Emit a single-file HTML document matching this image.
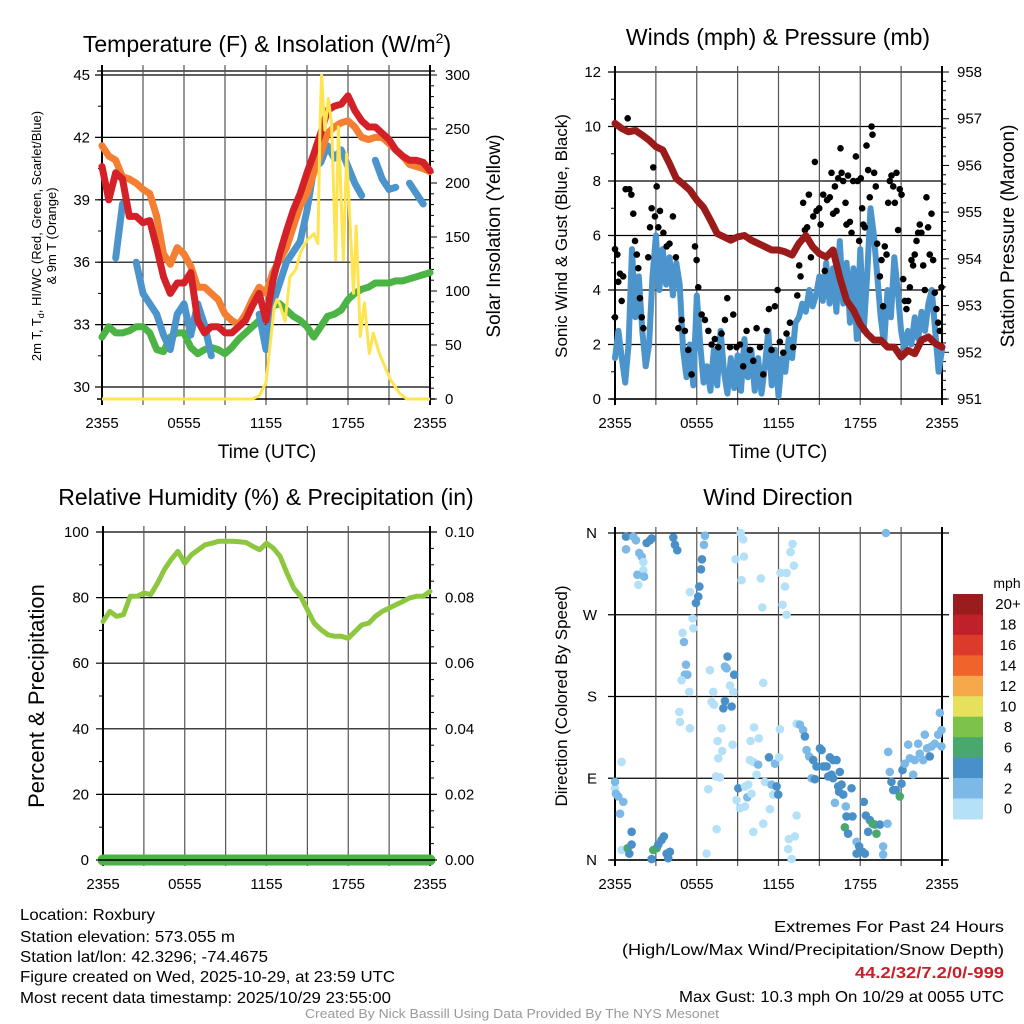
<!DOCTYPE html>
<html><head><meta charset="utf-8"><style>
html,body{margin:0;padding:0;background:#fff;}
svg{display:block;font-family:"Liberation Sans",sans-serif;}
</style></head><body>
<svg id="fig" width="1024" height="1024" viewBox="0 0 1024 1024" xmlns="http://www.w3.org/2000/svg">
<rect width="1024" height="1024" fill="#fff"/>
<!-- titles -->
<text x="267" y="52" font-size="23" text-anchor="middle">Temperature (F) &amp; Insolation (W/m<tspan dy="-9" font-size="14">2</tspan><tspan dy="9">)</tspan></text>
<text x="778" y="45" font-size="23" text-anchor="middle">Winds (mph) &amp; Pressure (mb)</text>
<text x="266" y="505" font-size="23" text-anchor="middle">Relative Humidity (%) &amp; Precipitation (in)</text>
<text x="778" y="505" font-size="23" text-anchor="middle">Wind Direction</text>
<!-- axis titles -->
<text x="267" y="458" font-size="19" text-anchor="middle">Time (UTC)</text>
<text x="778" y="458" font-size="19" text-anchor="middle">Time (UTC)</text>
<g transform="translate(41,236) rotate(-90)">
<text x="0" y="0" font-size="13" text-anchor="middle">2m T, T<tspan dy="3" font-size="9">d</tspan><tspan dy="-3">, HI/WC (Red, Green, Scarlet/Blue)</tspan></text>
<text x="0" y="15" font-size="13" text-anchor="middle">&amp; 9m T (Orange)</text></g>
<text transform="translate(500,236) rotate(-90)" font-size="19" text-anchor="middle">Solar Insolation (Yellow)</text>
<text transform="translate(567,236) rotate(-90)" font-size="17" text-anchor="middle">Sonic Wind &amp; Gust (Blue, Black)</text>
<text transform="translate(1014,236) rotate(-90)" font-size="19" text-anchor="middle">Station Pressure (Maroon)</text>
<text transform="translate(44,696) rotate(-90)" font-size="22" text-anchor="middle">Percent &amp; Precipitation</text>
<text transform="translate(567,696) rotate(-90)" font-size="17" text-anchor="middle">Direction (Colored By Speed)</text>
<!-- info text -->
<g font-size="16">
<text x="20" y="920" textLength="135" lengthAdjust="spacingAndGlyphs">Location: Roxbury</text>
<text x="20" y="942" textLength="215" lengthAdjust="spacingAndGlyphs">Station elevation: 573.055 m</text>
<text x="20" y="962" textLength="248" lengthAdjust="spacingAndGlyphs">Station lat/lon: 42.3296; -74.4675</text>
<text x="20" y="982" textLength="375" lengthAdjust="spacingAndGlyphs">Figure created on Wed, 2025-10-29, at 23:59 UTC</text>
<text x="20" y="1003" textLength="371" lengthAdjust="spacingAndGlyphs">Most recent data timestamp: 2025/10/29 23:55:00</text>
</g>
<g font-size="16">
<text x="774" y="932" textLength="230" lengthAdjust="spacingAndGlyphs">Extremes For Past 24 Hours</text>
<text x="622" y="955" textLength="382" lengthAdjust="spacingAndGlyphs">(High/Low/Max Wind/Precipitation/Snow Depth)</text>
<text x="855" y="978" textLength="149" lengthAdjust="spacingAndGlyphs" fill="#c8202a" font-weight="bold">44.2/32/7.2/0/-999</text>
<text x="679" y="1002" textLength="325" lengthAdjust="spacingAndGlyphs">Max Gust: 10.3 mph On 10/29 at 0055 UTC</text>
</g>
<text x="305" y="1018" font-size="13" textLength="414" lengthAdjust="spacingAndGlyphs" fill="#999">Created By Nick Bassill Using Data Provided By The NYS Mesonet</text>
<g id="g1"></g>
<g id="g2"></g>
<g id="g3"></g>
<g id="g4"></g>
<g id="cb"></g>
</svg>
<script>
// ---------- data ----------
const xTickHours = [0, 6, 12, 18, 24];
const xTickLabels = ["2355", "0555", "1155", "1755", "2355"];
const tempTicks = [30, 33, 36, 39, 42, 45];
const solarTicks = [0, 50, 100, 150, 200, 250, 300];
const windTicks = [0, 2, 4, 6, 8, 10, 12];
const presTicks = [951, 952, 953, 954, 955, 956, 957, 958];
const rhTicks = [0, 20, 40, 60, 80, 100];
const precipTicks = ["0.00", "0.02", "0.04", "0.06", "0.08", "0.10"];
const dirTicks = [0, 90, 180, 270, 360];
const dirLabels = ["N", "E", "S", "W", "N"];
const speedBins = ["0", "2", "4", "6", "8", "10", "12", "14", "16", "18", "20+"];
const speedColors = ["#b4e1f7", "#7db9e6", "#4a90c8", "#49a86c", "#7dc24a", "#e6e05a", "#f6a84a", "#f0632b", "#dd3a2b", "#c0202a", "#9b1c1c"];

// temperature series, half-hour steps from 2355 (h=0) to 2355 (h=24)
const tempRed = [40.6,39.0,40.3,40.0,38.2,38.2,37.9,38.0,36.7,35.3,34.5,35.0,35.0,35.5,33.2,32.6,32.9,32.9,32.6,32.6,32.9,33.2,33.9,34.5,33.2,35.1,36.4,37.5,38.5,39.3,40.3,41.2,42.2,43.3,43.5,43.6,44.0,43.3,42.8,42.5,42.5,42.2,41.9,41.4,41.1,40.9,40.9,40.8,40.4];
const tempOrange = [41.6,41.1,40.9,40.1,40.0,39.8,39.5,39.3,38.2,36.4,35.9,36.7,36.4,35.8,34.8,34.8,34.5,34.2,33.5,33.2,33.0,33.5,34.2,34.8,34.5,35.5,36.1,36.7,37.7,38.7,39.3,40.3,41.2,42.2,42.5,42.7,42.8,42.5,42.0,41.9,42.0,42.0,41.7,41.4,41.1,40.7,40.6,40.5,40.35];
const tempGreen = [32.4,32.9,32.6,32.6,32.7,32.9,32.9,32.6,31.8,31.7,32.4,32.6,32.6,31.9,31.6,31.8,31.9,31.8,31.6,31.9,32.3,32.6,32.9,33.2,33.4,33.9,34.0,33.7,33.4,33.2,32.9,32.4,32.9,33.4,33.5,33.7,34.2,34.5,34.7,34.8,35.0,35.0,35.0,35.1,35.1,35.2,35.3,35.4,35.5];
const tempBlue = [null,null,36.2,38.8,null,36.0,34.5,34.0,33.5,32.5,31.8,33.5,34.0,32.5,34.0,33.0,31.5,null,null,null,null,null,null,33.5,31.8,34.0,35.0,36.0,36.5,37.0,38.5,40.5,40.8,41.6,41.0,41.4,40.6,39.8,39.2,null,40.9,40.0,39.5,39.6,null,39.8,39.3,38.8,null];
const solarHours = [0,11,11.5,12,12.3,12.6,12.8,13,13.3,13.4,13.75,14.2,14.5,15,15.5,15.8,15.95,16.07,16.3,16.56,16.8,17.1,17.3,17.66,17.9,18.4,18.6,18.9,19.2,19.56,19.85,20.3,21.1,21.8,22.3,24];
const solarVals = [0,0,3,15,50,85,92,88,76,72,113,120,135,147,153,144,252,300,249,278,255,129,252,129,227,98,160,58,89,42,61,42,18,5,0,0];

// winds, quarter-hour steps
const windSonic = [1.5,2.5,1.5,0.6,2.0,5.5,3.0,4.5,2.5,1.2,2.0,4.5,6.0,4.0,5.5,4.2,5.2,3.8,5.0,4.2,1.8,0.8,2.0,0.5,3.8,2.0,0.6,1.2,0.3,1.8,0.5,2.5,1.0,0.2,1.5,0.4,1.6,0.3,2.2,0.8,1.8,0.3,1.5,0.2,1.2,2.5,0.5,1.8,0.1,1.5,1.0,2.2,1.5,2.8,3.0,3.5,3.2,4.0,3.4,3.8,4.5,3.6,5.0,3.5,4.8,3.2,5.8,3.5,5.0,2.8,4.8,2.2,5.5,2.5,4.5,7.0,6.0,4.5,3.0,2.0,4.0,3.0,5.2,4.0,2.5,1.8,2.5,2.0,3.0,2.2,3.2,2.5,3.5,4.0,2.5,1.0,1.8];
const pressure = [956.9,956.79,956.72,956.75,956.65,956.54,956.4,956.33,956.04,955.72,955.6,955.47,955.26,955.1,954.83,954.54,954.47,954.4,954.47,954.5,954.4,954.33,954.26,954.19,954.19,954.15,954.08,954.33,954.5,954.26,954.11,954.04,954.19,953.6,953.11,952.9,952.6,952.4,952.26,952.26,952.11,952.11,951.9,952.04,951.97,952.26,952.33,952.19,952.11];
const gustHours = [0,0,0.17,0.24,0.37,0.49,0.6,0.78,0.93,1.05,1.2,1.34,1.47,1.6,1.71,1.83,1.96,2.08,2.44,2.57,2.69,2.81,2.93,3.06,3.18,3.3,3.55,3.79,4.0,4.25,4.47,4.65,4.89,5.13,5.38,5.62,5.87,5.99,6.11,6.36,6.6,6.85,7.09,7.33,7.58,7.82,8.07,8.24,8.44,8.68,8.92,9.17,9.41,9.66,9.9,10.15,10.39,10.64,10.88,11.13,11.3,11.49,11.74,11.93,12.1,12.35,12.59,12.84,13.08,13.38,13.52,13.62,13.81,13.94,14.1,14.23,14.38,14.55,14.67,14.79,14.99,15.09,15.28,15.4,15.57,15.77,15.89,16.01,16.14,16.26,16.38,16.55,16.63,16.75,16.92,16.99,17.1,17.24,17.36,17.48,17.68,17.8,17.92,18.04,18.14,18.22,18.34,18.46,18.58,18.7,18.83,18.9,19.02,19.14,19.24,19.44,19.56,19.68,19.8,19.93,20.05,20.17,20.29,20.42,20.54,20.66,20.78,20.9,21.03,21.15,21.27,21.39,21.52,21.64,21.76,21.88,22.0,22.13,22.25,22.37,22.49,22.62,22.74,22.86,22.98,23.1,23.23,23.35,23.47,23.59,23.72,23.84,23.96];
const gustVals = [3.0,5.5,5.3,4.3,4.6,3.6,4.5,7.7,10.3,7.7,7.5,6.8,5.8,5.3,4.8,3.7,3.0,2.6,5.2,6.3,7.0,8.5,6.7,7.8,6.3,6.9,6.1,5.6,5.7,6.7,5.2,2.6,2.9,2.5,1.8,0.9,5.6,5.1,4.1,3.1,2.9,2.5,2.0,2.2,1.9,2.4,2.9,3.7,1.9,3.1,1.9,2.0,1.2,2.5,1.8,1.4,2.6,1.9,0.9,2.5,3.3,1.8,3.4,4.0,2.1,1.7,2.4,2.8,1.9,3.8,4.9,4.5,7.2,6.2,6.3,7.5,5.2,6.7,8.7,6.9,7.0,6.4,7.5,4.7,7.3,7.4,8.3,6.8,7.8,6.9,8.1,9.2,8.3,8.0,7.2,6.4,8.2,6.5,6.1,8.0,8.9,8.0,5.8,8.1,7.0,6.4,6.3,9.3,8.4,7.4,10.0,9.7,8.3,7.8,5.7,4.5,5.1,3.4,5.6,5.3,7.2,8.0,8.2,7.8,7.2,8.3,6.2,7.7,7.5,4.4,3.6,3.3,3.6,4.1,5.1,4.9,5.3,5.8,6.1,6.4,6.1,4.9,4.0,7.4,6.3,5.3,6.8,5.1,3.9,3.3,2.8,2.5,4.1];

// humidity, half-hour steps
const rhVals = [72.7,75.8,74.3,74.8,80.4,80.4,81.4,80.9,84.4,88.5,91.6,94.1,90.5,93.1,94.6,96.1,96.6,97.2,97.2,97.2,97.0,96.8,95.6,94.6,96.6,95.1,92.6,87.5,82.9,80.4,76.3,72.2,70.2,68.7,68.2,68.2,67.6,69.7,71.7,72.2,74.3,75.8,76.8,77.8,78.8,79.9,80.4,80.4,81.9];
const precipVals = [0,0,0,0,0,0,0,0,0,0,0,0,0,0,0,0,0,0,0,0,0,0,0,0,0];

// wind direction points
const dirHours = [0,0,0.07,0.24,0.61,0.49,0.37,0.49,0.93,1.05,1.22,1.22,0.81,0.81,1.34,1.54,1.78,1.96,2.08,2.08,1.64,2.13,1.71,2.32,2.57,2.69,2.81,3.06,3.18,3.42,3.59,3.79,4.03,3.91,2.69,4.28,4.40,4.57,5.50,5.70,5.75,5.94,6.11,6.19,6.31,6.38,6.53,6.60,4.96,5.06,5.21,5.13,5.31,4.89,5.45,4.72,4.77,5.50,6.97,7.09,7.26,7.21,7.53,7.58,7.82,7.87,7.41,7.70,6.85,7.46,6.72,8.07,8.19,8.26,8.44,8.56,8.68,8.75,7.95,8.07,8.63,9.05,8.92,9.17,9.54,9.78,9.54,9.71,10.02,9.90,10.15,10.15,10.39,10.51,10.88,11.0,11.37,11.49,11.61,11.74,11.98,12.05,11.86,11.3,10.88,10.2,9.95,10.56,9.22,9.41,9.46,8.85,9.29,10.71,10.81,12.15,12.47,12.59,12.3,12.59,12.88,13.03,13.13,12.1,13.33,13.2,12.76,12.71,12.96,13.33,13.57,13.81,13.94,14.06,14.25,14.55,14.43,14.67,14.79,15.04,15.16,15.28,15.53,15.65,15.77,16.01,16.26,15.89,16.01,16.5,16.38,16.45,16.63,16.75,16.14,16.94,16.99,16.87,17.11,17.43,17.36,17.73,17.92,17.73,18.17,18.34,18.26,18.41,18.58,18.7,18.9,19.07,19.19,19.44,19.68,20.0,19.68,19.88,20.05,20.17,20.29,20.42,20.61,20.9,21.03,21.1,21.27,21.52,21.64,21.88,22.0,22.25,22.37,22.62,22.74,22.91,23.1,23.23,23.47,23.72,23.84,23.96,23.96];
const dirVals = [79,86,73,70,64,108,51,11,13,7,17,31,356,342,356,352,338,334,328,319,314,312,303,349,352,354,11,13,17,22,26,7,9,2,1,355,347,341,295,266,255,283,290,301,320,331,347,357,250,240,215,204,204,198,185,163,152,145,209,174,171,185,131,112,145,120,92,91,78,34,7,213,211,224,192,169,185,204,167,175,127,79,66,57,59,83,81,69,73,110,108,31,94,105,40,86,56,83,72,106,72,113,81,113,195,146,131,134,360,353,334,331,308,310,278,316,301,316,281,270,339,348,324,144,49,26,23,12,1,150,149,143,136,121,114,110,90,89,103,123,121,103,103,92,113,110,110,94,90,97,81,75,83,72,63,59,48,36,29,48,79,20,15,7,9,7,64,49,31,44,40,39,29,39,15,40,6,360,119,97,86,77,77,70,84,99,106,127,112,94,110,128,117,110,138,123,114,125,128,138,162,143,125];
const dirSpeeds = [1,3,3,3,3,1,3,1,7,5,5,5,5,3,3,3,3,3,1,1,3,3,1,5,5,5,7,7,5,5,5,5,5,5,5,5,5,5,1,1,1,5,5,5,5,5,3,3,1,3,3,3,3,1,1,1,1,1,1,1,1,1,1,1,1,1,1,1,1,1,1,3,3,5,1,5,1,5,5,5,1,5,1,1,1,1,1,3,1,1,1,1,1,3,1,1,1,3,1,3,5,1,5,5,1,1,1,1,1,1,1,1,1,1,1,1,1,1,1,1,1,1,1,1,1,1,1,1,1,1,3,3,5,3,3,5,3,5,5,5,5,5,5,5,5,5,5,5,5,5,5,5,5,5,3,3,5,7,5,5,5,3,5,5,5,5,5,5,5,5,7,7,7,5,3,3,3,3,3,3,5,5,5,7,5,5,3,3,3,3,3,3,3,3,3,3,5,3,3,3,3,3,3,3];

// ---------- helpers ----------
const NS = "http://www.w3.org/2000/svg";
function mk(tag, attrs, parent) {
  const e = document.createElementNS(NS, tag);
  for (const k in attrs) e.setAttribute(k, attrs[k]);
  parent.appendChild(e);
  return e;
}
const g1 = document.getElementById("g1"), g2 = document.getElementById("g2"),
      g3 = document.getElementById("g3"), g4 = document.getElementById("g4"), cb = document.getElementById("cb");

const P1 = {l:102, r:430, t:71, b:399};
const P2 = {l:615, r:942, t:72, b:399};
const P3 = {l:103, r:430, t:532, b:860};
const P4 = {l:615, r:942, t:533, b:860};
const xs = (P, h) => P.l + h * (P.r - P.l) / 24;
const yT = v => 75 + (45 - v) * 20.8;
const yS = v => 399 - v * 1.08;
const yW = v => P2.b - v * (P2.b - P2.t) / 12;
const yP = v => P2.b - (v - 951) * (P2.b - P2.t) / 7;
const yR = v => P3.b - v * (P3.b - P3.t) / 100;
const yD = v => P4.b - v * (P4.b - P4.t) / 360;

function line(g, x1, y1, x2, y2, w, c, name) {
  const e = mk("line", {x1:x1, y1:y1, x2:x2, y2:y2, stroke:c, "stroke-width":w}, g);
  
  
  return e;
}
function label(g, x, y, s, anchor, name, size) {
  const e = mk("text", {x:x, y:y, "font-size":size || 15, "text-anchor":anchor}, g);
  e.textContent = s;
  
  
  return e;
}
function frame(g, P, name) {
  for (let h = 0; h <= 24; h += 3) {
    const x = xs(P, h);
    const edge = (h === 0 || h === 24);
    line(g, x, P.t - 6, x, P.b + 6, edge ? 2 : 1.2, edge ? "#000" : "#555", name + "-vgrid");
  }
  xTickHours.forEach((h, i) => label(g, xs(P, h), P.b + 29, xTickLabels[i], "middle", name + "-x-tick-label"));
  line(g, P.l - 5, P.b, P.r + 5, P.b, 1.5, "#000", name + "-x-axis");
}
function pathFrom(xsArr, ysArr) {
  let d = "", pen = false;
  for (let i = 0; i < xsArr.length; i++) {
    if (ysArr[i] === null) { pen = false; continue; }
    d += (pen ? "L" : "M") + xsArr[i].toFixed(1) + " " + ysArr[i].toFixed(1) + " ";
    pen = true;
  }
  return d;
}
const half = Array.from({length:49}, (_, i) => i * 0.5);
const quarter = Array.from({length:97}, (_, i) => i * 0.25);

// ---------- panel 1 ----------
tempTicks.forEach(v => {
  line(g1, P1.l - 7, yT(v), P1.r, yT(v), 1.2, "#000", "temp-hgrid");
  label(g1, P1.l - 12, yT(v) + 5, String(v), "end", "temp-y-tick-label");
});
for (let v = 30; v <= 45; v += 1.5) line(g1, P1.l - 4, yT(v), P1.l, yT(v), 1, "#000", "temp-minor-tick");
line(g1, P1.l - 5, P1.t, P1.r + 5, P1.t, 1.2, "#000", "temp-top-frame");
for (let v = 0; v <= 300; v += 10) line(g1, P1.r, yS(v), P1.r + (v % 50 === 0 ? 7 : 4), yS(v), 1, "#000", "solar-tick");
solarTicks.forEach(v => label(g1, P1.r + 15, yS(v) + 5, String(v), "start", "solar-y-tick-label"));
frame(g1, P1, "temp");
line(g1, P1.r, P1.t, P1.r, P1.b, 2, "#000", "temp-right-axis");
[[tempGreen, "#4bb445", "dewpoint-line"], [tempBlue, "#4b94cc", "heat-index-wind-chill-line"], [tempOrange, "#f47f32", "temp-9m-line"], [tempRed, "#d42027", "temp-2m-line"]].forEach(s => {
  const p = mk("path", {d: pathFrom(half.map(h => xs(P1, h)), s[0].map(v => v === null ? null : yT(v))), fill:"none", stroke:s[1], "stroke-width":7, "stroke-linejoin":"round", "stroke-linecap":"round"}, g1);
  
  
});
const sy = mk("path", {d: pathFrom(solarHours.map(h => xs(P1, h)), solarVals.map(yS)), fill:"none", stroke:"#fde450", "stroke-width":3, "stroke-linejoin":"round"}, g1);



// ---------- panel 2 ----------
windTicks.forEach(v => {
  line(g2, P2.l - 7, yW(v), P2.r, yW(v), 1.2, "#000", "wind-hgrid");
  label(g2, P2.l - 14, yW(v) + 5, String(v), "end", "wind-y-tick-label");
});
for (let v = 1; v < 12; v += 2) line(g2, P2.l - 4, yW(v), P2.l, yW(v), 1, "#000", "wind-minor-tick");
for (let v = 951; v <= 958.001; v += 0.2) {
  const major = Math.abs(v - Math.round(v)) < 0.01;
  line(g2, P2.r, yP(v), P2.r + (major ? 7 : 4), yP(v), 1, "#000", "pressure-tick");
}
presTicks.forEach(v => label(g2, P2.r + 15, yP(v) + 5, String(v), "start", "pressure-y-tick-label"));
frame(g2, P2, "wind");
line(g2, P2.r, P2.t, P2.r, P2.b, 2, "#000", "wind-right-axis");
const wb = mk("path", {d: pathFrom(quarter.map(h => xs(P2, h)), windSonic.map(yW)), fill:"none", stroke:"#4b94cc", "stroke-width":6, "stroke-linejoin":"round", "stroke-linecap":"round"}, g2);


gustHours.forEach((h, i) => {
  const c = mk("circle", {cx:xs(P2, h), cy:yW(gustVals[i]), r:3.3, fill:"#000"}, g2);
  
  
});
const pl = mk("path", {d: pathFrom(half.map(h => xs(P2, h)), pressure.map(yP)), fill:"none", stroke:"#9b1b1b", "stroke-width":7, "stroke-linejoin":"round", "stroke-linecap":"round"}, g2);



// ---------- panel 3 ----------
rhTicks.forEach((v, i) => {
  line(g3, P3.l - 7, yR(v), P3.r + 7, yR(v), 1.2, "#000", "rh-hgrid");
  label(g3, P3.l - 14, yR(v) + 5, String(v), "end", "rh-y-tick-label");
  label(g3, P3.r + 15, yR(v) + 5, precipTicks[i], "start", "precip-y-tick-label");
});
for (let v = 10; v < 100; v += 20) line(g3, P3.l - 4, yR(v), P3.l, yR(v), 1, "#000", "rh-minor-tick");
for (let v = 5; v < 100; v += 5) if (v % 20) line(g3, P3.r, yR(v), P3.r + 4, yR(v), 1, "#000", "precip-minor-tick");
frame(g3, P3, "rh");
line(g3, P3.r, P3.t, P3.r, P3.b, 2, "#000", "rh-right-axis");
const pr = mk("path", {d: pathFrom(precipVals.map((_, i) => xs(P3, i)), precipVals.map(v => yR(v * 1000))), fill:"none", stroke:"#4bb445", "stroke-width":11, "stroke-linecap":"round"}, g3);


line(g3, P3.l - 5, P3.b, P3.r + 5, P3.b, 1.5, "#000", "rh-x-axis-over");
const rh = mk("path", {d: pathFrom(half.map(h => xs(P3, h)), rhVals.map(yR)), fill:"none", stroke:"#8dc63f", "stroke-width":5, "stroke-linejoin":"round", "stroke-linecap":"round"}, g3);



// ---------- panel 4 ----------
dirTicks.forEach((v, i) => {
  line(g4, P4.l - 7, yD(v), P4.r + 7, yD(v), 1.2, "#000", "dir-hgrid");
  label(g4, P4.l - 18, yD(v) + 5, dirLabels[i], "end", "dir-y-tick-label");
});
frame(g4, P4, "dir");
line(g4, P4.r, P4.t - 6, P4.r, P4.b + 6, 2, "#000", "dir-right-axis");
dirHours.forEach((h, i) => {
  const s = dirSpeeds[i];
  const c = mk("circle", {cx:xs(P4, h), cy:yD(dirVals[i]), r:4.3, fill:speedColors[Math.min(10, Math.floor(s / 2))]}, g4);
  
  
});

// ---------- colorbar ----------
label(cb, 1007, 588, "mph", "middle", "colorbar-title", 14);
const cbTop = 594, cbH = 20.45;
speedBins.forEach((lab, i) => {
  const idx = 10 - i;
  const r = mk("rect", {x:953, y:cbTop + i * cbH, width:30, height:cbH + 0.5, fill:speedColors[idx]}, cb);
  
  
  label(cb, 1008, cbTop + i * cbH + cbH / 2 + 5, speedBins[idx], "middle", "colorbar-label", 15);
});
</script>
</body></html>
